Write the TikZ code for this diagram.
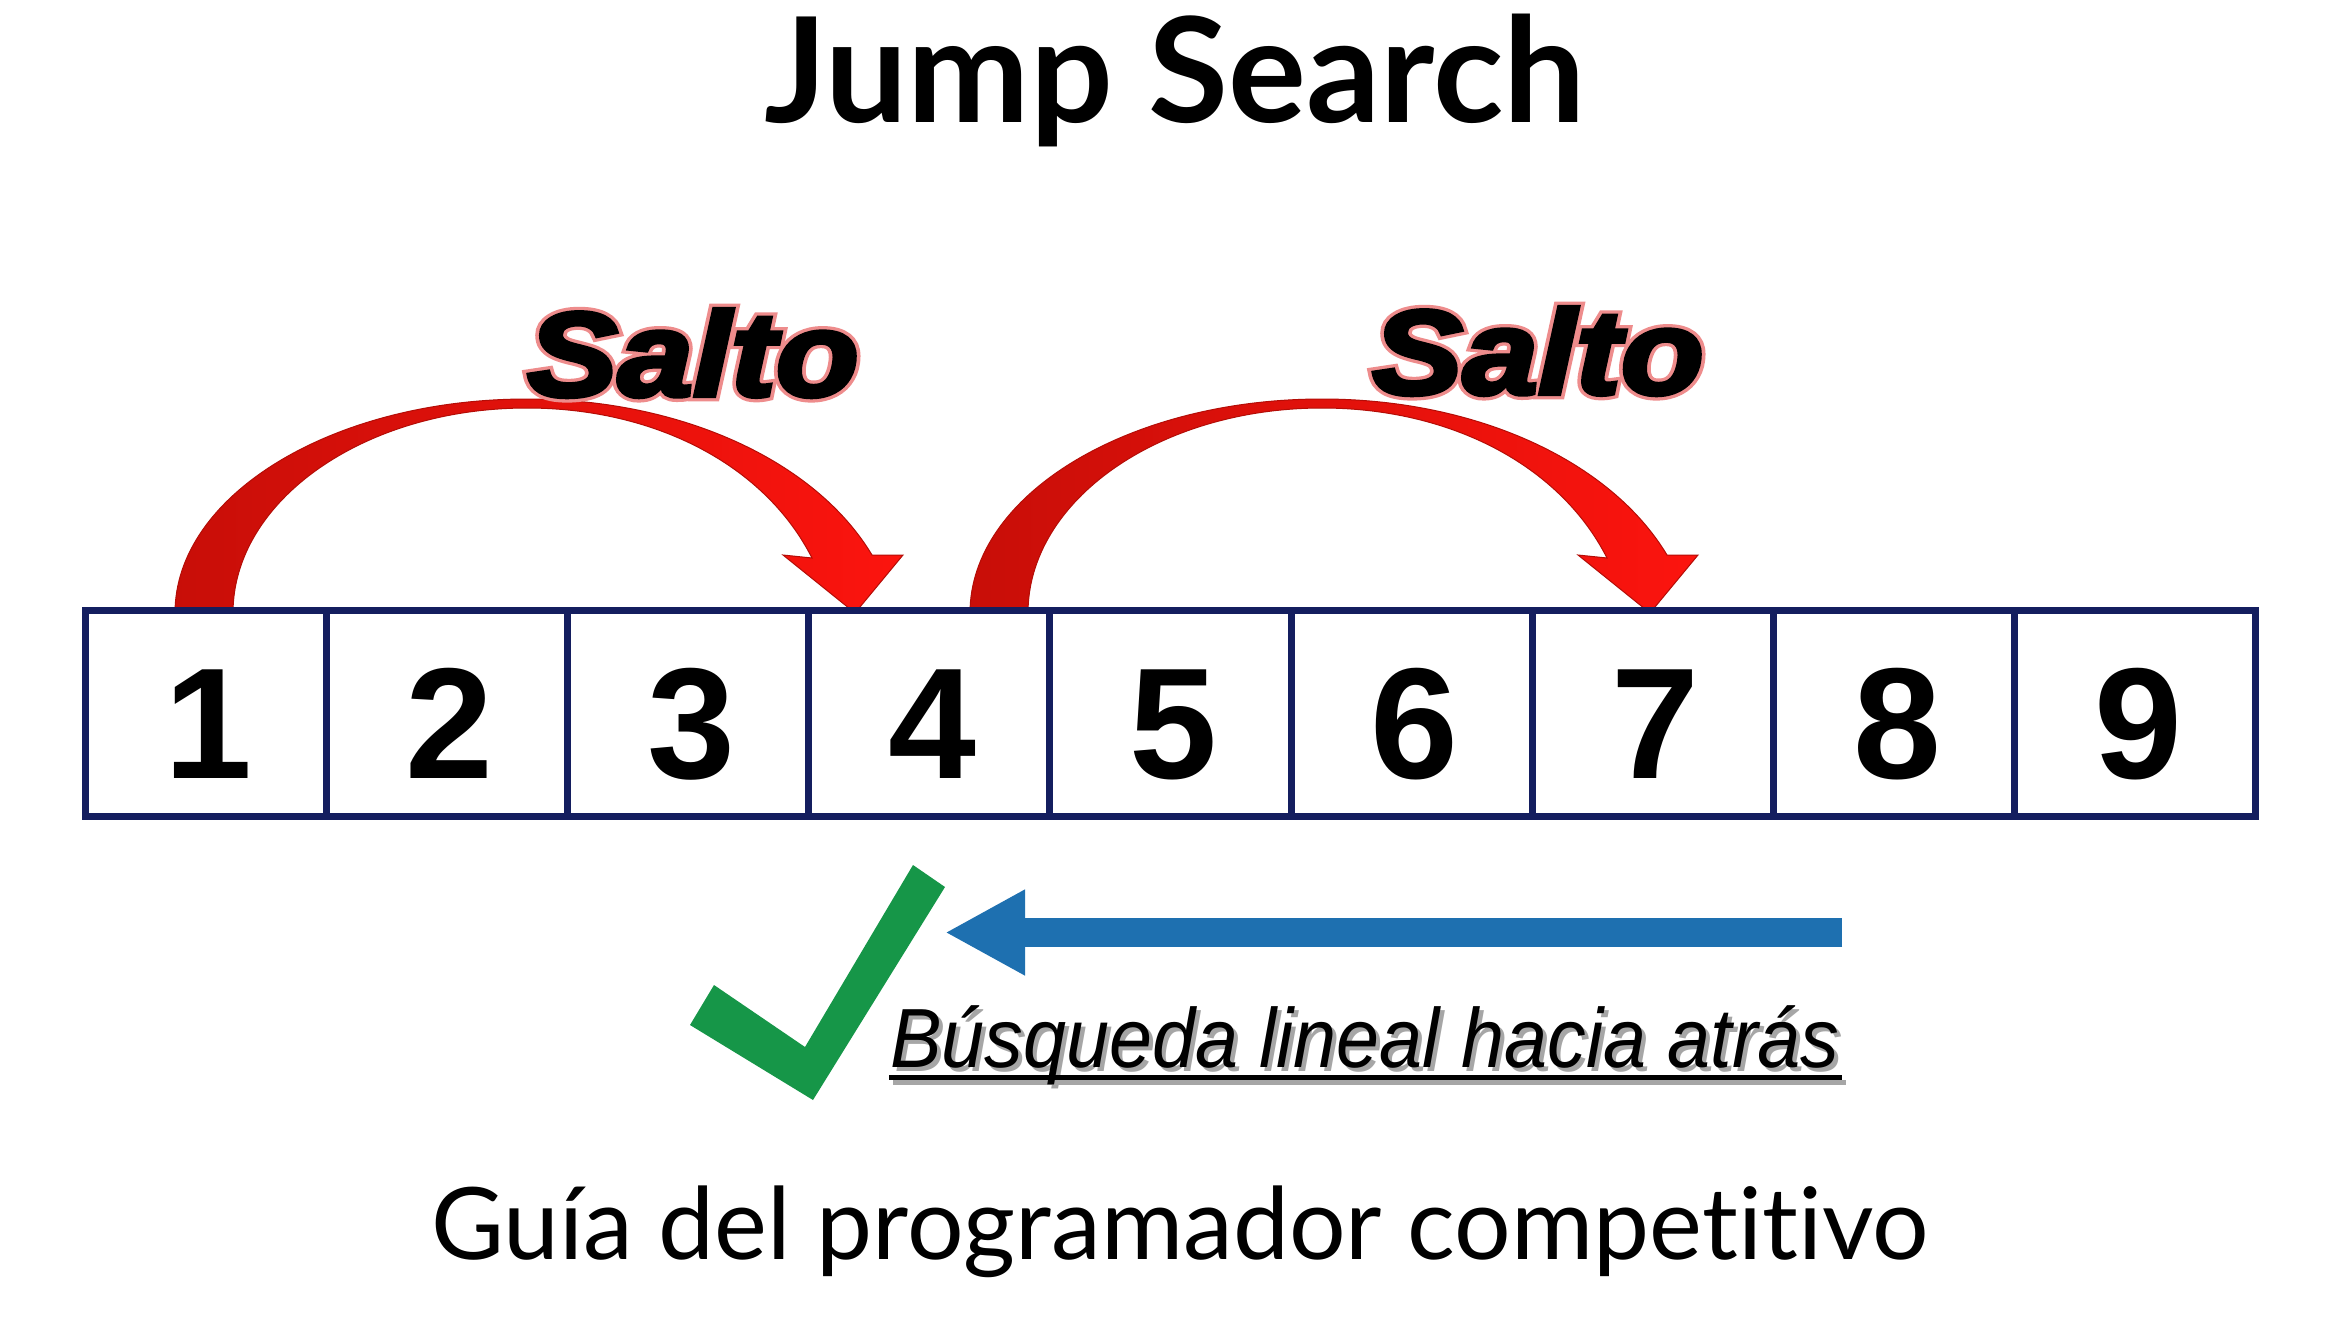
\documentclass[tikz,border=0pt]{standalone}
\usepackage{fontspec}
\usetikzlibrary{arrows.meta,calc}
\setmainfont{Lato}
\newfontfamily\latofont[Ligatures=NoCommon]{Lato}
\newfontfamily\arialfont[BoldItalicFeatures={FakeBold=3.5}]{Liberation Sans}
\newfontfamily\glowfont[BoldItalicFeatures={FakeBold=9}]{Liberation Sans}

\definecolor{navy}{RGB}{20,30,95}
\definecolor{checkgreen}{RGB}{22,150,72}
\definecolor{backblue}{RGB}{30,112,176}
\definecolor{jumpdark}{RGB}{200,14,8}
\definecolor{jumplight}{RGB}{252,20,14}
\definecolor{glowpink}{RGB}{238,140,140}

\newcommand{\titlefont}{\latofont\bfseries\fontsize{146}{150}\selectfont}
\newcommand{\subfont}{\latofont\fontsize{100}{110}\selectfont}
\newcommand{\digitfont}{\arialfont\bfseries\fontsize{158}{160}\selectfont}
\newcommand{\jumpfont}{\arialfont\bfseries\itshape\fontsize{120}{124}\selectfont}
\newcommand{\jumpglowfont}{\glowfont\bfseries\itshape\fontsize{120}{124}\selectfont}
\newcommand{\notefont}{\arialfont\itshape\fontsize{84}{88}\selectfont}

\tikzset{
  cellbox/.style={draw=navy, line width=7pt, minimum width=241.2pt,
    minimum height=206pt, inner sep=0pt},
  digit/.style={font=\digitfont, anchor=base, inner sep=0pt},
  jumpword/.style={font=\jumpfont, anchor=base, inner sep=0pt},
  jumpglow/.style={font=\jumpglowfont, anchor=base, inner sep=0pt, text=glowpink},
  jumparrow/.pic={
    \path[left color=jumpdark, right color=jumplight, draw=jumpdark!90!black, line width=1pt]
      (175,613)
      .. controls (175,495) and (333,399) .. (527,399)
      .. controls (680,399) and (815,460) .. (872,555)
      -- (903,555) -- (855,613) -- (783,555) -- (812,558)
      .. controls (765,465) and (655,408) .. (527,408)
      .. controls (365,408) and (233,500) .. (233,613) -- cycle;
  }
}

% word "Salto" with a soft red halo behind it
\newcommand{\jumplabel}[2]{%
  \node[jumpglow] at (#2) {\scalebox{1.13}[1]{Salto}};
  \node[jumpword] (#1) at (#2) {\scalebox{1.13}[1]{Salto}};
}

\begin{document}
\begin{tikzpicture}[x=1pt,y=-1pt]
  \useasboundingbox[fill=white] (0,0) rectangle (2335,1334);

  % title
  \node[font=\titlefont, anchor=base, inner sep=0pt] (title) at (1175,122) {Jump Search};

  % the two jumps
  \pic (jumpA) at (0,0) {jumparrow};
  \pic (jumpB) at (795,0) {jumparrow};
  \coordinate (saltoApos) at (693,396);
  \coordinate (saltoBpos) at (1538,394);
  \jumplabel{saltoA}{saltoApos}
  \jumplabel{saltoB}{saltoBpos}

  % the array
  \foreach \i in {1,...,9}{
    \node[cellbox] (c\i) at ({85+241.2*(\i-0.5)},713) {};
    \node[digit] (d\i) at ({88+241.2*(\i-0.5)},778) {\i};
  }

  % backward linear scan
  \coordinate (scanstart) at (1842,932.5);
  \coordinate (scanend) at (945,932.5);
  \draw[backblue, line width=29pt, -{Triangle[length=80pt,width=80pt]}] (scanstart) -- (scanend);

  % check mark
  \fill[checkgreen] (913,865) -- (945,887) -- (813,1100) -- (690,1025)
    -- (714,985) -- (805,1047) -- cycle;

  % caption under the scan, with a soft shadow
  \node[font=\notefont, anchor=base, inner sep=0pt, text=black!35] at (1369,1071)
    {\scalebox{0.92}[1]{Búsqueda lineal hacia atrás}};
  \draw[black!35, line width=5pt] (893,1082) -- (1846,1082);
  \node[font=\notefont, anchor=base, inner sep=0pt] (scannote) at (1365,1067)
    {\scalebox{0.92}[1]{Búsqueda lineal hacia atrás}};
  \draw[black, line width=5pt] (889,1077.5) -- (1842,1077.5);

  % subtitle
  \node[font=\subfont, anchor=base, inner sep=0pt] (subtitle) at (1180,1259)
    {Guía del programador competitivo};
\end{tikzpicture}
\end{document}
